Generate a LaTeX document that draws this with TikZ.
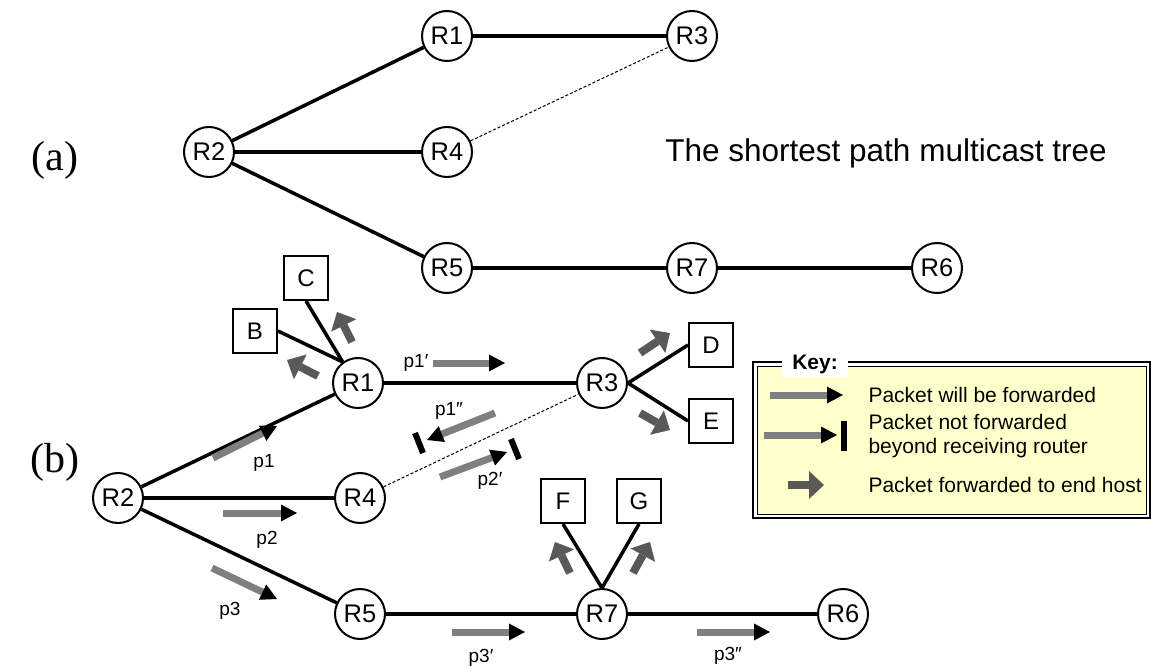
\documentclass[tikz,border=0pt]{standalone}
\usepackage{fontspec}
\setmainfont{Liberation Sans}
\newfontfamily\partfont{Liberation Serif}
\usetikzlibrary{positioning, arrows.meta}
\definecolor{pktgray}{HTML}{7F7F7F}
\definecolor{hostgray}{HTML}{595959}
\definecolor{keyyellow}{HTML}{FFFFCC}

\tikzset{
  router/.style={circle, draw, line width=2pt, fill=white, minimum size=50pt,
                 inner sep=0pt, font=\fontsize{25.5}{25.5}\selectfont},
  host/.style={rectangle, draw, line width=2pt, fill=white, minimum size=44pt,
               inner sep=0pt, font=\fontsize{24}{24}\selectfont},
  link/.style={line width=3.5pt},
  pruned/.style={line width=1pt, dash pattern=on 3pt off 2pt},
  pkt/.style={pktgray, line width=7pt,
              -{Triangle[length=16pt, width=17pt, line width=0pt, color=black]}},
  hostarrow/.style={hostgray, line width=8pt,
                    -{Triangle[length=15pt, width=28pt, line width=0pt]}},
  blockbar/.style={line width=6pt},
  pktlabel/.style={font=\fontsize{19}{19}\selectfont},
  keytext/.style={anchor=west, align=left, font=\fontsize{21}{24}\selectfont}
}

\begin{document}
\begin{tikzpicture}[x=1pt, y=-1pt]
  \useasboundingbox (0,0) rectangle (1151,668);

  % (a) shortest path tree
  \node[font=\partfont\fontsize{42}{42}\selectfont] (parta) at (55,160) {(a)};
  \node[router] (aR1) at (447,36) {R1};
  \node[router] (aR3) at (692,36) {R3};
  \node[router] (aR2) at (209,152) {R2};
  \node[router] (aR4) at (447,152) {R4};
  \node[router] (aR5) at (447,268) {R5};
  \node[router] (aR7) at (692,268) {R7};
  \node[router] (aR6) at (937,268) {R6};
  \draw[link] (aR2) -- (aR1);
  \draw[link] (aR1) -- (aR3);
  \draw[link] (aR2) -- (aR4);
  \draw[link] (aR2) -- (aR5);
  \draw[link] (aR5) -- (aR7);
  \draw[link] (aR7) -- (aR6);
  \draw[pruned] (aR4) -- (aR3);
  \node[font=\fontsize{31.5}{31.5}\selectfont] (title) at (886,153) {The shortest path multicast tree};

  % (b) reverse path forwarding
  \node[font=\partfont\fontsize{42}{42}\selectfont] (partb) at (55,462) {(b)};
  \node[router] (bR1) at (358,383) {R1};
  \node[router] (bR3) at (602,383) {R3};
  \node[router] (bR2) at (118,498) {R2};
  \node[router] (bR4) at (360,498) {R4};
  \node[router] (bR5) at (360,614) {R5};
  \node[router] (bR7) at (602,614) {R7};
  \node[router] (bR6) at (843,614) {R6};
  \node[host] (B) at (255,331) {B};
  \node[host] (C) at (306,278) {C};
  \node[host] (D) at (711,345) {D};
  \node[host] (E) at (711,421) {E};
  \node[host] (F) at (563,501) {F};
  \node[host] (G) at (639,501) {G};
  \draw[link] (bR2) -- (bR1);
  \draw[link] (bR2) -- (bR4);
  \draw[link] (bR2) -- (bR5);
  \draw[link] (bR1) -- (bR3);
  \draw[link] (bR5) -- (bR7);
  \draw[link] (bR7) -- (bR6);
  \draw[pruned] (bR4) -- (bR3);
  \draw[link] (B.east) -- (bR1.126);
  \draw[link] (C.south) -- (bR1.126);
  \draw[link] (bR3.east) -- (D.west);
  \draw[link] (bR3.east) -- (E.west);
  \draw[link] (F.south) -- (bR7.north);
  \draw[link] (G.south) -- (bR7.north);

  % packets
  \draw[pkt] (213,458) -- (277,426);
  \node[pktlabel] (p1) at (264,463) {p1};
  \draw[pkt] (223,513) -- (297,513);
  \node[pktlabel] (p2) at (267,540) {p2};
  \draw[pkt] (212,568) -- (277,599);
  \node[pktlabel] (p3) at (230,611) {p3};
  \draw[pkt] (433,363) -- (505,363);
  \node[pktlabel] (p1b) at (416,363) {p1′};
  \draw[pkt] (495,413) -- (427,440);
  \draw[blockbar] (415,433) -- (423,453);
  \node[pktlabel] (p1c) at (449,411) {p1″};
  \draw[pkt] (440,477) -- (507,452);
  \draw[blockbar] (511,439) -- (519,459);
  \node[pktlabel] (p2b) at (490,481) {p2′};
  \draw[pkt] (452,632) -- (525,632);
  \node[pktlabel] (p3b) at (481,658) {p3′};
  \draw[pkt] (697,632) -- (770,632);
  \node[pktlabel] (p3c) at (728,656) {p3″};

  % forwarded to end hosts
  \draw[hostarrow] (318,376) -- (287,360);
  \draw[hostarrow] (352,342) -- (337,312);
  \draw[hostarrow] (640,353) -- (670,333);
  \draw[hostarrow] (640,413) -- (670,430);
  \draw[hostarrow] (570,573) -- (555,542);
  \draw[hostarrow] (633,573) -- (650,542);

  % key
  \draw[line width=1.4pt] (753,362) rectangle (1150,518);
  \draw[fill=keyyellow, line width=0.8pt] (757,366) rectangle (1146,514);
  \node[fill=white, inner xsep=10pt, minimum height=22pt,
        font=\bfseries\fontsize{21}{21}\selectfont] (keyhead) at (815,364) {Key:};
  \draw[pkt] (770,395) -- (843,395);
  \node[keytext] (key1) at (865,395) {Packet will be forwarded};
  \draw[pkt] (764,435) -- (837,435);
  \draw[blockbar] (844,421) -- (844,451);
  \node[keytext] (key2) at (865,436) {Packet not forwarded\\beyond receiving router};
  \draw[hostarrow] (788,485) -- (824,485);
  \node[keytext] (key3) at (865,485) {Packet forwarded to end host};
\end{tikzpicture}
\end{document}
